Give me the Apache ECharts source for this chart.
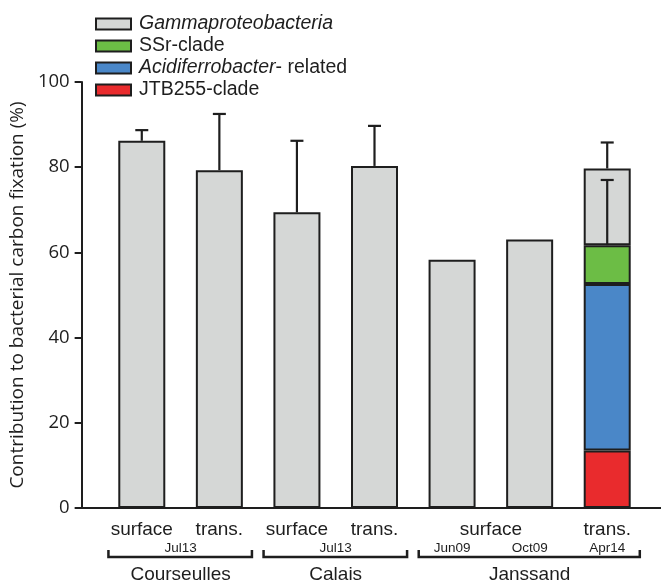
<!DOCTYPE html>
<html>
<head>
<meta charset="utf-8">
<script src="https://cdn.jsdelivr.net/npm/echarts@6/dist/echarts.min.js"></script>
<style>
  html, body { margin: 0; padding: 0; background: #fff; }
  #chart { width: 661px; height: 583px; }
</style>
</head>
<body>
<div id="chart"></div>
<script>
// ---- Data ----
const categories = ['Courseulles surface', 'Courseulles trans.', 'Calais surface', 'Calais trans.',
                    'Janssand surface Jun09', 'Janssand surface Oct09', 'Janssand trans. Apr14'];
// total height of each bar (Gammaproteobacteria total)
const gammaTotal = [86.2, 79.3, 69.4, 80.3, 58.3, 63.0, 79.7];
// sub-clades (only resolved for the last sample)
const jtb255 = [0, 0, 0, 0, 0, 0, 13.5];
const acidiferro = [0, 0, 0, 0, 0, 0, 39.1];
const ssrClade = [0, 0, 0, 0, 0, 0, 9.1];
// upper error bar ends
const errTop = [88.7, 92.5, 86.2, 89.7, null, null, 85.8];
const subErrTop = [null, null, null, null, null, null, 77.0];

const yTicks = [0, 20, 40, 60, 80, 100];

const layerLabels = ['surface', 'trans.', 'surface', 'trans.', 'surface', 'trans.'];
const layerFrom = [0, 1, 2, 3, 4, 6];
const layerTo = [0, 1, 2, 3, 5, 6];

const dateLabels = ['Jul13', 'Jul13', 'Jun09', 'Oct09', 'Apr14'];
const dateFrom = [0, 2, 4, 5, 6];
const dateTo = [1, 3, 4, 5, 6];

const siteNames = ['Courseulles', 'Calais', 'Janssand'];
const siteFrom = [0, 2, 4];
const siteTo = [1, 3, 6];

const seriesNames = ['Gammaproteobacteria', 'SSr-clade', 'Acidiferrobacter- related', 'JTB255-clade'];

// ---- Derived ----
const subSum = jtb255.map((v, i) => v + acidiferro[i] + ssrClade[i]);
const gammaSegment = gammaTotal.map((v, i) => +(v - subSum[i]).toFixed(2));
const errData = [];
gammaTotal.forEach((v, i) => { if (errTop[i] != null) errData.push([i, v, errTop[i]]); });
subSum.forEach((v, i) => { if (subErrTop[i] != null) errData.push([i, v, subErrTop[i]]); });

const INK = '#1e1e1e';
const SANS = '"Liberation Sans", Arial, sans-serif';
const HUM = '"Open Sans", "Noto Sans", sans-serif';
const LEG = 19.5;

const chart = echarts.init(document.getElementById('chart'), null, { renderer: 'canvas' });

function textEl(text, x, y, size) {
  return {
    type: 'text',
    style: {
      text: text, x: x, y: y, fill: INK,
      fontSize: size, fontFamily: SANS,
      align: 'center', verticalAlign: 'middle',
      textAlign: 'center', textVerticalAlign: 'middle'
    }
  };
}

function renderLayer(params, api) {
  const i = params.dataIndex;
  const a = api.coord([layerFrom[i], 0]);
  const b = api.coord([layerTo[i], 0]);
  return textEl(layerLabels[i], (a[0] + b[0]) / 2, a[1] + 22, 19);
}
function renderDate(params, api) {
  const i = params.dataIndex;
  const a = api.coord([dateFrom[i], 0]);
  const b = api.coord([dateTo[i], 0]);
  return textEl(dateLabels[i], (a[0] + b[0]) / 2, a[1] + 40, 13.5);
}
function renderSite(params, api) {
  const i = params.dataIndex;
  const a = api.coord([siteFrom[i], 0]);
  const b = api.coord([siteTo[i], 0]);
  const band = api.size([1, 0])[0];
  const x0 = a[0] - band * 0.43, x1 = b[0] + band * 0.42, y0 = a[1];
  return {
    type: 'group',
    children: [
      {
        type: 'polyline',
        shape: { points: [[x0, y0 + 42], [x0, y0 + 49], [x1, y0 + 49], [x1, y0 + 42]] },
        style: { stroke: INK, lineWidth: 2.5, fill: null }
      },
      textEl(siteNames[i], (a[0] + b[0]) / 2, y0 + 67, 19)
    ]
  };
}
function renderErr(params, api) {
  const x = api.value(0);
  const p0 = api.coord([x, api.value(1)]);
  const p1 = api.coord([x, api.value(2)]);
  const half = 6.5;
  return {
    type: 'group',
    children: [
      { type: 'line', shape: { x1: p0[0], y1: p0[1], x2: p1[0], y2: p1[1] }, style: { stroke: INK, lineWidth: 2.2 } },
      { type: 'line', shape: { x1: p1[0] - half, y1: p1[1], x2: p1[0] + half, y2: p1[1] }, style: { stroke: INK, lineWidth: 2.2 } }
    ]
  };
}

const barBase = {
  type: 'bar', stack: 'total', barWidth: 47, xAxisIndex: 0, yAxisIndex: 0,
  itemStyle: { borderColor: INK, borderWidth: 2 }
};

const option = {
  animation: false,
  backgroundColor: '#fff',
  legend: {
    orient: 'vertical', left: 95, top: 14, padding: 0,
    itemWidth: 35, itemHeight: 11, itemGap: 2,
    icon: 'rect',
    data: seriesNames,
    itemStyle: { borderColor: INK, borderWidth: 2 },
    textStyle: {
      fontSize: LEG, fontFamily: SANS, color: INK, padding: [0, 0, 0, 3],
      rich: {
        i: { fontSize: LEG, fontFamily: SANS, color: INK, fontStyle: 'italic' },
        n: { fontSize: LEG, fontFamily: SANS, color: INK }
      }
    },
    formatter: function (name) {
      if (name === 'Gammaproteobacteria') return '{i|Gammaproteobacteria}';
      if (name === 'Acidiferrobacter- related') return '{i|Acidiferrobacter}{n|- related}';
      return '{n|' + name + '}';
    }
  },
  grid: [
    { left: 103, right: 15, top: 82, bottom: 75 },
    { left: 80, right: 0, top: 82, bottom: 75 }
  ],
  xAxis: [
    {
      type: 'category', gridIndex: 0, data: categories,
      axisLine: { show: false }, axisTick: { show: false }, axisLabel: { show: false }
    },
    {
      type: 'value', gridIndex: 1, min: 0, max: 1,
      axisLine: { show: true, lineStyle: { color: INK, width: 2 } },
      axisTick: { show: false }, axisLabel: { show: false }, splitLine: { show: false }
    }
  ],
  yAxis: [
    { type: 'value', gridIndex: 0, min: 0, max: 100, interval: 20, show: false },
    {
      type: 'value', gridIndex: 1, min: yTicks[0], max: yTicks[yTicks.length - 1], interval: 20,
      name: 'Contribution to bacterial carbon fixation (%)',
      nameLocation: 'middle', nameGap: 40,
      nameTextStyle: { fontSize: 19, fontFamily: HUM, color: INK },
      axisLine: { show: true, lineStyle: { color: INK, width: 2 } },
      axisTick: { show: true, length: 7, lineStyle: { color: INK, width: 2 } },
      axisLabel: { fontSize: 18.5, fontFamily: HUM, color: INK, margin: 12 },
      splitLine: { show: false }
    }
  ],
  series: [
    Object.assign({}, barBase, { name: 'JTB255-clade', data: jtb255, color: '#e92b2d' }),
    Object.assign({}, barBase, { name: 'Acidiferrobacter- related', data: acidiferro, color: '#4a87c8' }),
    Object.assign({}, barBase, { name: 'SSr-clade', data: ssrClade, color: '#6cbd45' }),
    Object.assign({}, barBase, { name: 'Gammaproteobacteria', data: gammaSegment, color: '#d5d7d6' }),
    {
      type: 'custom', name: 'err', xAxisIndex: 0, yAxisIndex: 0, z: 5,
      renderItem: renderErr, data: errData, encode: { x: 0, y: [1, 2] }
    },
    {
      type: 'custom', name: 'layers', xAxisIndex: 0, yAxisIndex: 0, clip: false,
      renderItem: renderLayer, data: layerLabels.map((l, i) => [layerFrom[i], 0])
    },
    {
      type: 'custom', name: 'dates', xAxisIndex: 0, yAxisIndex: 0, clip: false,
      renderItem: renderDate, data: dateLabels.map((l, i) => [dateFrom[i], 0])
    },
    {
      type: 'custom', name: 'sites', xAxisIndex: 0, yAxisIndex: 0, clip: false,
      renderItem: renderSite, data: siteNames.map((l, i) => [siteFrom[i], 0])
    }
  ]
};
chart.setOption(option);
</script>
</body>
</html>
